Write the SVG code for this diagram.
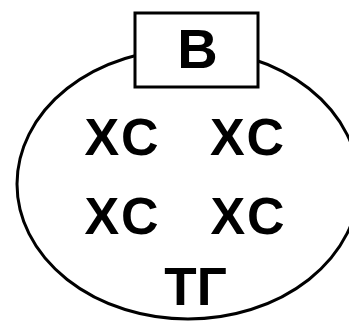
<svg xmlns="http://www.w3.org/2000/svg" width="349" height="324" viewBox="0 0 349 324">
<style>
.t{font-family:"Liberation Sans",Arial,sans-serif;font-weight:bold;fill:#000;text-anchor:middle}
.x{font-size:52px;letter-spacing:2px}
.s{fill:#fff;stroke:#000;stroke-width:3}
</style>
<rect width="349" height="324" fill="#fff"/>
<g id="cell">
<ellipse class="s" cx="188" cy="184" rx="171" ry="135"/>
</g>
<g id="box">
<rect class="s" x="135" y="13" width="123" height="74"/>
<text class="t" x="197.5" y="68" font-size="56">B</text>
</g>
<g id="xc1"><text class="t x" x="122.5" y="155">XC</text></g>
<g id="xc2"><text class="t x" x="248" y="155">XC</text></g>
<g id="xc3"><text class="t x" x="122.5" y="234">XC</text></g>
<g id="xc4"><text class="t x" x="248.5" y="234">XC</text></g>
<g id="tg"><text class="t" x="195.5" y="305" font-size="53">TГ</text></g>
</svg>
